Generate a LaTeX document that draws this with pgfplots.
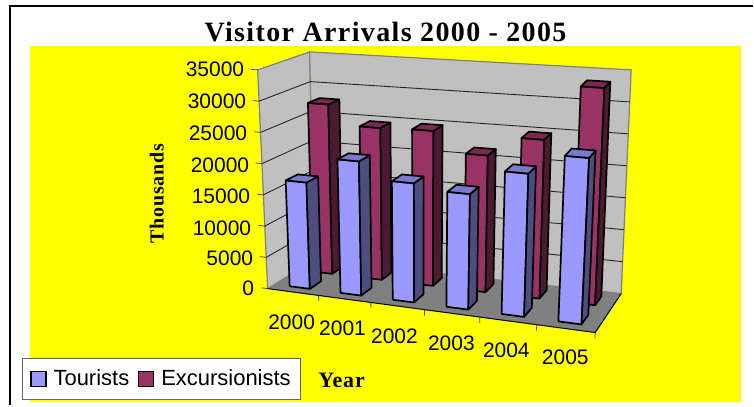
\documentclass[border=0pt]{standalone}
\usepackage{fontspec}
\setmainfont{Liberation Sans}
\newfontfamily\titlefont[LetterSpace=5]{Liberation Serif}
\newfontfamily\labelfont[LetterSpace=4]{Liberation Serif}
\usepackage{pgfplots}
\usepackage{pgfplotstable}
\pgfplotsset{compat=1.18}
\definecolor{tf}{HTML}{9999FF}\definecolor{tt}{HTML}{7A7ACC}\definecolor{ts}{HTML}{4D4D80}
\definecolor{ef}{HTML}{993366}\definecolor{et}{HTML}{7A2952}\definecolor{es}{HTML}{4D1A33}
\definecolor{wall}{HTML}{C0C0C0}\definecolor{flr}{HTML}{808080}\definecolor{yel}{HTML}{FFFF00}
\pgfplotstableset{prj/.style={row sep=\\,
  x expr={XX(T(\thisrow{c}+\thisrow{f}),\thisrow{d},\thisrow{v}/35000)},
  y expr={YY(T(\thisrow{c}+\thisrow{f}),\thisrow{d},\thisrow{v}/35000)}}}
% one column: category i, value, depth from, depth to, colours
\newcommand\cube[7]{%
  \addplot[fill=#5,draw=black,line width=1.7pt,line join=round] table[prj] {c f d v\\ #1 0.3 #3 0\\ #1 0.7 #3 0\\ #1 0.7 #3 #2\\ #1 0.3 #3 #2\\ #1 0.3 #3 0\\};
  \addplot[fill=#7,draw=black,line width=1.7pt,line join=round] table[prj] {c f d v\\ #1 0.7 #3 0\\ #1 0.7 #4 0\\ #1 0.7 #4 #2\\ #1 0.7 #3 #2\\ #1 0.7 #3 0\\};
  \addplot[fill=#6,draw=black,line width=1.7pt,line join=round] table[prj] {c f d v\\ #1 0.3 #3 #2\\ #1 0.7 #3 #2\\ #1 0.7 #4 #2\\ #1 0.3 #4 #2\\ #1 0.3 #3 #2\\};
}
\newcommand\wallgrid[1]{%
  \addplot[draw=black!85,line width=0.9pt] table[prj] {c f d v\\ 0 0 0 #1\\ 0 0 1 #1\\ 6 0 1 #1\\};
  \addplot[draw=black!70,line width=0.8pt] table[prj] {c f d v\\ -0.12 0 0 #1\\ 0 0 0 #1\\};
}
\newcommand\xticku[1]{%
  \addplot[draw=black!70,line width=0.8pt] table[prj] {c f d v\\ #1 0 0 0\\ #1 0 0 -900\\};
}
\begin{document}
\begin{tikzpicture}
\begin{axis}[
  scale only axis,width=754pt,height=406pt,hide axis,clip=false,
  xmin=0,xmax=754,ymin=0,ymax=406,y dir=reverse,enlargelimits=false,
  declare function={
    T(\u)=(\u/6*0.92)/(1-0.08*\u/6);
    XX(\t,\d,\w)=(1-\d)*((1-\t)*((1-\w)*268+\w*258)+\t*((1-\w)*596+\w*608))+\d*((1-\t)*((1-\w)*315+\w*310)+\t*((1-\w)*622+\w*632));
    YY(\t,\d,\w)=(1-\d)*((1-\t)*((1-\w)*289+\w*70)+\t*((1-\w)*333+\w*97))+\d*((1-\t)*((1-\w)*260+\w*52)+\t*((1-\w)*294+\w*70));
  },
  legend columns=2,legend cell align=left,
  legend style={at={(axis cs:22,358)},anchor=north west,draw=black!60,line width=1pt,fill=white,
    font=\fontsize{22}{24}\selectfont,inner xsep=8pt,inner ysep=10pt,
    /tikz/every even column/.append style={column sep=7pt}},
  legend image code/.code={\draw[#1,line width=1.2pt] (0pt,-7.5pt) rectangle (15pt,7.5pt);\path (0pt,0pt) (20pt,0pt);},
]
\addlegendimage{fill=tf,draw=black}\addlegendentry{Tourists}
\addlegendimage{fill=ef,draw=black}\addlegendentry{Excursionists\hspace{4pt}}
% page, yellow area
\addplot[fill=white,draw=none] coordinates {(0,0)(754,0)(754,406)(0,406)};
\addplot[fill=yel,draw=none] coordinates {(30,46)(742,46)(742,403)(30,403)};
\addplot[draw=black,line width=2pt] coordinates {(10,406)(10,6)(754,6)};
% walls and floor
\addplot[fill=wall,draw=flr,line width=1.2pt] table[prj] {c f d v\\ 0 0 0 0\\ 0 0 1 0\\ 0 0 1 35000\\ 0 0 0 35000\\ 0 0 0 0\\};
\addplot[fill=wall,draw=flr,line width=1.2pt] table[prj] {c f d v\\ 0 0 1 0\\ 6 0 1 0\\ 6 0 1 35000\\ 0 0 1 35000\\ 0 0 1 0\\};
\addplot[fill=flr,draw=none] table[prj] {c f d v\\ 0 0 0 0\\ 6 0 0 0\\ 6 0 1 0\\ 0 0 1 0\\ 0 0 0 0\\};
\wallgrid{5000}\wallgrid{10000}\wallgrid{15000}\wallgrid{20000}\wallgrid{25000}\wallgrid{30000}
\addplot[draw=black!70,line width=0.8pt] table[prj] {c f d v\\ -0.12 0 0 35000\\ 0 0 0 35000\\};
\addplot[draw=black!70,line width=0.8pt] table[prj] {c f d v\\ -0.12 0 0 0\\ 0 0 0 0\\};
\addplot[draw=black,line width=1pt] table[prj] {c f d v\\ 0 0 0 0\\ 6 0 0 0\\ 6 0 1 0\\};
\xticku{1}\xticku{2}\xticku{3}\xticku{4}\xticku{5}\xticku{6}
% Excursionists (rear row)
\cube{0}{27800}{0.65}{0.88}{ef}{et}{es}
\cube{1}{24600}{0.65}{0.88}{ef}{et}{es}
\cube{2}{24800}{0.65}{0.88}{ef}{et}{es}
\cube{3}{21600}{0.65}{0.88}{ef}{et}{es}
\cube{4}{24800}{0.65}{0.88}{ef}{et}{es}
\cube{5}{33500}{0.65}{0.88}{ef}{et}{es}
% Tourists (front row)
\cube{0}{17000}{0.15}{0.4}{tf}{tt}{ts}
\cube{1}{21200}{0.15}{0.4}{tf}{tt}{ts}
\cube{2}{18600}{0.15}{0.4}{tf}{tt}{ts}
\cube{3}{17800}{0.15}{0.4}{tf}{tt}{ts}
\cube{4}{21800}{0.15}{0.4}{tf}{tt}{ts}
\cube{5}{25000}{0.15}{0.4}{tf}{tt}{ts}
% labels
\node[font=\fontsize{21}{24}\selectfont,anchor=east] at (axis cs:248,69) {35000};
\node[font=\fontsize{21}{24}\selectfont,anchor=east] at (axis cs:250,101) {30000};
\node[font=\fontsize{21}{24}\selectfont,anchor=east] at (axis cs:251,133) {25000};
\node[font=\fontsize{21}{24}\selectfont,anchor=east] at (axis cs:253,165) {20000};
\node[font=\fontsize{21}{24}\selectfont,anchor=east] at (axis cs:254,197) {15000};
\node[font=\fontsize{21}{24}\selectfont,anchor=east] at (axis cs:255,229) {10000};
\node[font=\fontsize{21}{24}\selectfont,anchor=east] at (axis cs:257,259) {5000};
\node[font=\fontsize{21}{24}\selectfont,anchor=east] at (axis cs:258,289) {0};
\node[font=\fontsize{21}{24}\selectfont] at (axis cs:292,323) {2000};
\node[font=\fontsize{21}{24}\selectfont] at (axis cs:343,329) {2001};
\node[font=\fontsize{21}{24}\selectfont] at (axis cs:395,337) {2002};
\node[font=\fontsize{21}{24}\selectfont] at (axis cs:452,344) {2003};
\node[font=\fontsize{21}{24}\selectfont] at (axis cs:507,351) {2004};
\node[font=\fontsize{21}{24}\selectfont] at (axis cs:566,358) {2005};
\node[font=\fontsize{28}{30}\selectfont\titlefont\bfseries] at (axis cs:386,32) {Visitor Arrivals 2000 - 2005};
\node[font=\fontsize{20}{22}\selectfont\labelfont\bfseries,rotate=90] at (axis cs:157,194) {Thousands};
\node[font=\fontsize{22}{24}\selectfont\labelfont\bfseries] at (axis cs:342,381) {Year};
\end{axis}
\end{tikzpicture}
\end{document}
